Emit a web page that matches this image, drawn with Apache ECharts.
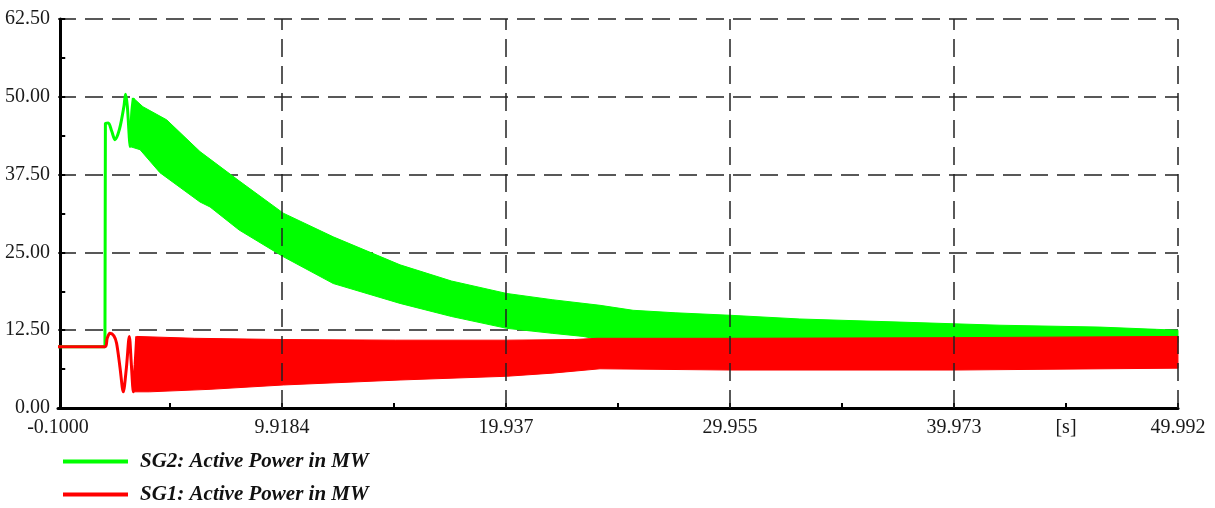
<!DOCTYPE html>
<html>
<head>
<meta charset="utf-8">
<script src="https://cdn.jsdelivr.net/npm/echarts@6/dist/echarts.min.js"></script>
<style>
  html, body { margin: 0; padding: 0; background: #fff; }
  #chart { width: 1215px; height: 508px; }
</style>
</head>
<body>
<div id="chart"></div>
<script>
// Time axis: major tick positions and their printed labels ([s] sits on the last minor tick)
const xLabelValues = [-0.1, 9.9184, 19.9368, 29.9552, 39.9736, 44.983, 49.992];
const xLabelTexts  = ['-0.1000', '9.9184', '19.937', '29.955', '39.973', '[s]', '49.992'];
const xGridValues  = [9.9184, 19.9368, 29.9552, 39.9736, 49.992];
const xTickValues  = [4.909, 9.9184, 14.928, 19.9368, 24.946, 29.9552, 34.964, 39.9736, 44.983, 49.992];

// SG2 (green): pre-event level and transient, then envelope of the fast oscillation
const sg2LineT = [-0.1, 2.0, 2.02, 2.15, 2.3, 2.45, 2.65, 2.85, 2.92, 3.0, 3.08, 3.12, 3.2, 3.27];
const sg2LineV = [9.85, 9.85, 45.7, 45.8, 44.5, 43.1, 44.8, 48.5, 50.4, 48.5, 44.0, 42.0, 47.5, 49.8];
const sg2TopT = [3.27, 3.7, 4.76, 6.25, 8.0, 9.98, 12.21, 15.2, 17.5, 19.97, 22.0, 24.14, 25.62, 27.5, 29.95, 33.08, 37.56, 42.03, 46.5, 49.99];
const sg2TopV = [49.8, 48.4, 46.3, 41.2, 36.5, 31.3, 27.5, 23.0, 20.4, 18.4, 17.4, 16.5, 15.7, 15.3, 14.9, 14.3, 13.8, 13.3, 13.0, 12.5];
const sg2BotT = [3.12, 3.57, 4.46, 6.25, 6.7, 8.0, 9.98, 12.21, 15.2, 17.5, 19.97, 22.0, 23.38, 24.14, 25.0, 49.99];
const sg2BotV = [42.0, 41.5, 37.8, 33.1, 32.3, 28.6, 24.3, 20.0, 16.8, 14.7, 12.8, 12.0, 11.5, 11.0, 10.5, 10.5];

// SG1 (red): pre-event level and transient, then envelope of the fast oscillation
const sg1LineT = [-0.1, 2.0, 2.1, 2.22, 2.4, 2.52, 2.67, 2.82, 2.96, 3.09, 3.18, 3.27, 3.35, 3.42];
const sg1LineV = [9.85, 9.85, 11.2, 12.0, 11.6, 10.4, 6.6, 2.6, 6.5, 11.5, 7.0, 2.6, 7.0, 11.5];
const sg1TopT = [3.42, 6.0, 10.0, 15.0, 20.0, 23.0, 24.0, 30.0, 40.0, 49.99];
const sg1TopV = [11.5, 11.2, 11.0, 10.9, 10.9, 11.0, 11.2, 11.2, 11.3, 11.5];
const sg1BotT = [3.27, 4.0, 6.7, 9.98, 15.2, 19.97, 22.0, 24.14, 30.0, 40.0, 49.99];
const sg1BotV = [2.6, 2.6, 3.0, 3.7, 4.5, 5.1, 5.6, 6.3, 6.1, 6.1, 6.4];

const SG2 = 'SG2: Active Power in MW';
const SG1 = 'SG1: Active Power in MW';
const GREEN = '#00ff00';
const RED = '#ff0000';
const FONT = '"Liberation Serif", "Times New Roman", serif';

function pairs(t, v) { return t.map((x, i) => [x, v[i]]); }

// Filled band between an upper and a lower envelope
function bandRenderer(topT, topV, botT, botV, color) {
  return function (params, api) {
    const pts = [];
    for (let i = 0; i < topT.length; i++) pts.push(api.coord([topT[i], topV[i]]));
    for (let i = botT.length - 1; i >= 0; i--) pts.push(api.coord([botT[i], botV[i]]));
    return {
      type: 'polygon',
      shape: { points: pts },
      style: { fill: color, stroke: color, lineWidth: 1 }
    };
  };
}

function legendFor(name, color, top) {
  return {
    orient: 'vertical',
    left: 58,
    top: top,
    itemWidth: 65,
    itemHeight: 4,
    icon: 'rect',
    data: [{ name: name, itemStyle: { color: color } }],
    textStyle: {
      fontFamily: FONT, fontSize: 21, fontStyle: 'italic', fontWeight: 'bold',
      color: '#111', padding: [0, 0, 0, 7]
    }
  };
}

const chart = echarts.init(document.getElementById('chart'));
chart.setOption({
  animation: false,
  backgroundColor: '#fff',
  grid: { left: 58, right: 37, top: 19, bottom: 100, containLabel: false },
  legend: [legendFor(SG2, GREEN, 446), legendFor(SG1, RED, 479)],
  xAxis: {
    type: 'value',
    min: -0.1,
    max: 49.992,
    axisLine: { show: true, onZero: false, lineStyle: { color: '#000', width: 3 } },
    axisTick: {
      show: true, inside: true, length: 5, customValues: xTickValues,
      lineStyle: { color: '#000', width: 2 }
    },
    axisLabel: {
      customValues: xLabelValues,
      margin: 10,
      fontFamily: FONT, fontSize: 20, color: '#1a1a1a',
      formatter: function (v) {
        let best = 0;
        for (let i = 1; i < xLabelValues.length; i++) {
          if (Math.abs(xLabelValues[i] - v) < Math.abs(xLabelValues[best] - v)) best = i;
        }
        return xLabelTexts[best];
      }
    },
    splitLine: { show: false }
  },
  yAxis: {
    type: 'value',
    min: 0,
    max: 62.5,
    interval: 12.5,
    axisLine: { show: true, lineStyle: { color: '#000', width: 3 } },
    axisTick: { show: true, inside: true, length: 5, lineStyle: { color: '#000', width: 2 } },
    minorTick: { show: true, splitNumber: 2, length: 5, lineStyle: { color: '#000', width: 2 } },
    axisLabel: {
      margin: 8,
      fontFamily: FONT, fontSize: 20, color: '#1a1a1a',
      formatter: v => v.toFixed(2)
    },
    splitLine: { show: true, lineStyle: { color: '#222', width: 1.5, type: [18, 9] } }
  },
  series: [
    {
      name: SG2,
      type: 'line',
      data: pairs(sg2LineT, sg2LineV),
      showSymbol: false,
      smooth: 0.3,
      z: 2,
      lineStyle: { color: GREEN, width: 3 },
      itemStyle: { color: GREEN },
      markLine: {
        silent: true,
        symbol: 'none',
        label: { show: false },
        lineStyle: { color: '#222', width: 1.5, type: [18, 9] },
        data: xGridValues.map(x => ({ xAxis: x }))
      }
    },
    {
      name: SG2,
      type: 'custom',
      z: 2,
      data: [[0, 0]],
      renderItem: bandRenderer(sg2TopT, sg2TopV, sg2BotT, sg2BotV, GREEN)
    },
    {
      name: SG1,
      type: 'custom',
      z: 3,
      data: [[0, 0]],
      renderItem: bandRenderer(sg1TopT, sg1TopV, sg1BotT, sg1BotV, RED)
    },
    {
      name: SG1,
      type: 'line',
      data: pairs(sg1LineT, sg1LineV),
      showSymbol: false,
      smooth: 0.3,
      z: 3,
      lineStyle: { color: RED, width: 3 },
      itemStyle: { color: RED }
    }
  ]
});
</script>
</body>
</html>
